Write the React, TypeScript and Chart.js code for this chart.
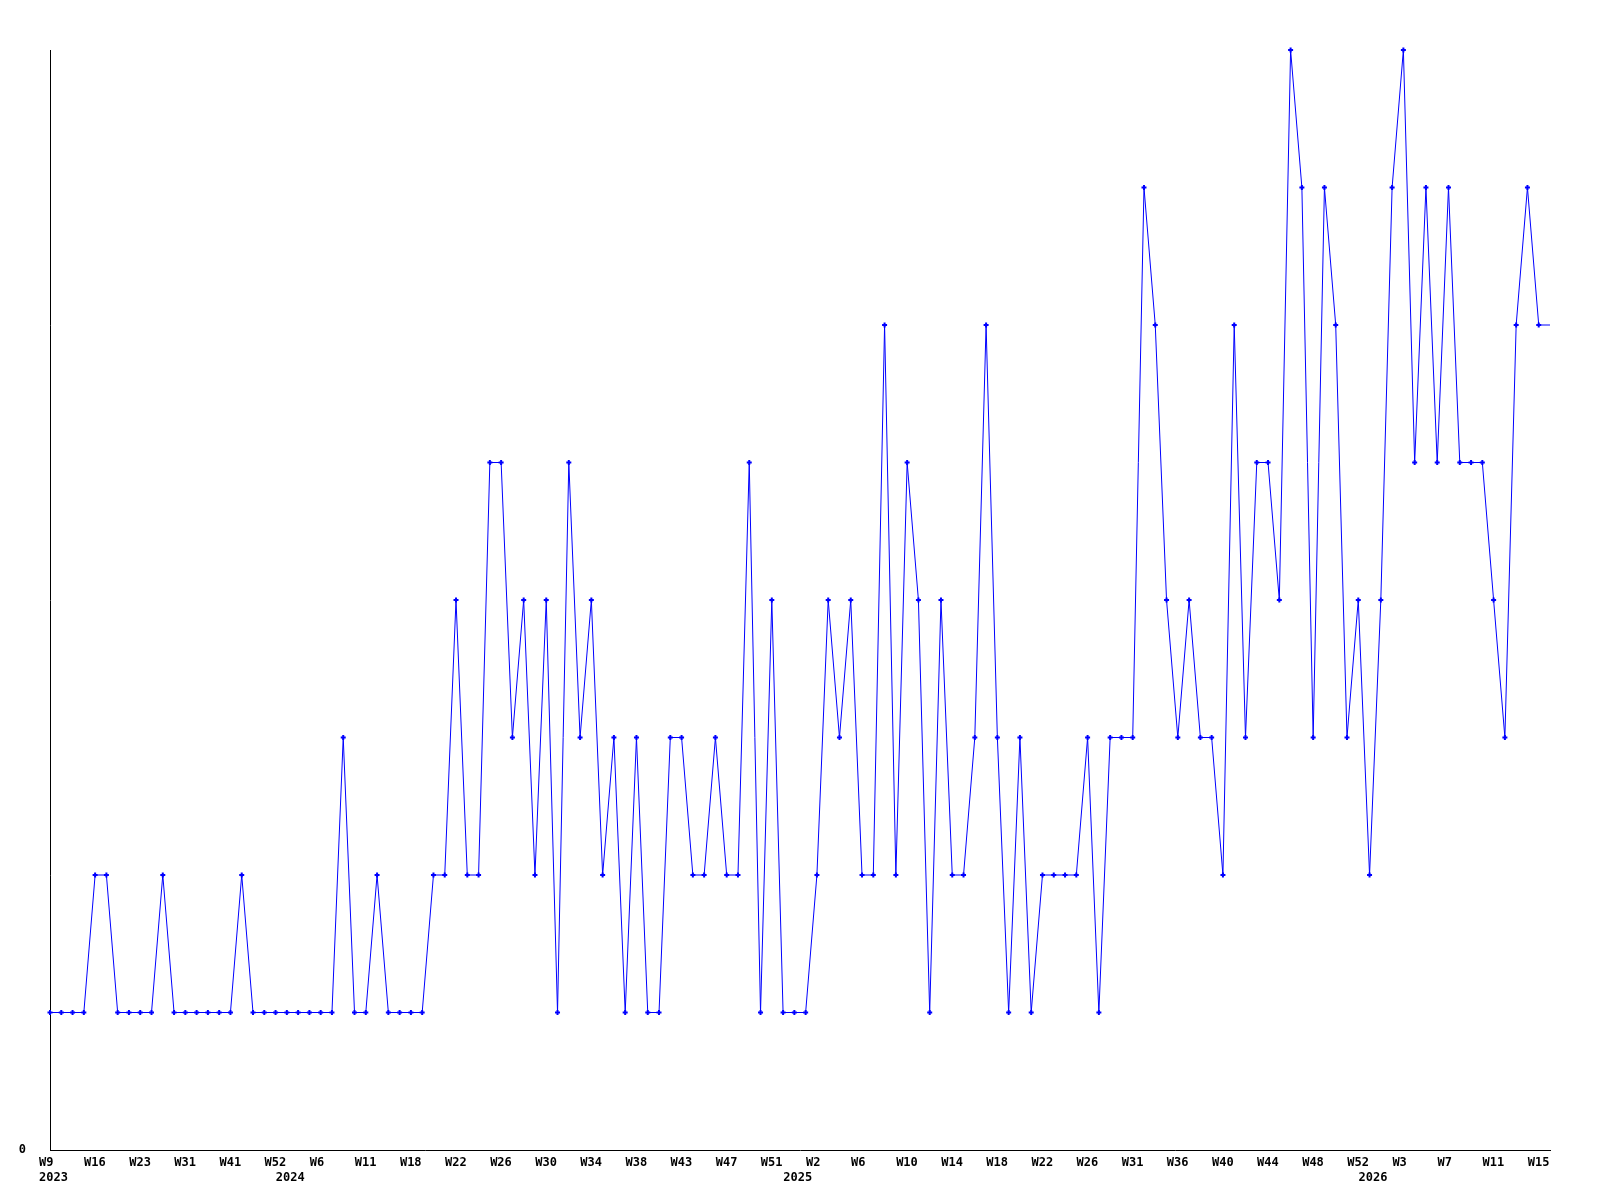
import React, { useEffect, useRef } from "react";
import { Chart, registerables } from "chart.js";

Chart.register(...registerables);

// Weekly counts (one entry per reported week, weeks without data are not listed)
const weeklyCounts: number[] = [
  1, 1, 1, 1, 2, 2, 1, 1, 1, 1,
  2, 1, 1, 1, 1, 1, 1, 2, 1, 1,
  1, 1, 1, 1, 1, 1, 3, 1, 1, 2,
  1, 1, 1, 1, 2, 2, 4, 2, 2, 5,
  5, 3, 4, 2, 4, 1, 5, 3, 4, 2,
  3, 1, 3, 1, 1, 3, 3, 2, 2, 3,
  2, 2, 5, 1, 4, 1, 1, 1, 2, 4,
  3, 4, 2, 2, 6, 2, 5, 4, 1, 4,
  2, 2, 3, 6, 3, 1, 3, 1, 2, 2,
  2, 2, 3, 1, 3, 3, 3, 7, 6, 4,
  3, 4, 3, 3, 2, 6, 3, 5, 5, 4,
  8, 7, 3, 7, 6, 3, 4, 2, 4, 7,
  8, 5, 7, 5, 7, 5, 5, 5, 4, 3,
  6, 7, 6, 6,
];

// Week tick labels, one on every 4th reported week
const weekTicks: string[] = [
  "W9", "W16", "W23", "W31", "W41", "W52", "W6", "W11", "W18",
  "W22", "W26", "W30", "W34", "W38", "W43", "W47", "W51", "W2",
  "W6", "W10", "W14", "W18", "W22", "W26", "W31", "W36", "W40",
  "W44", "W48", "W52", "W3", "W7", "W11", "W15",
];
const weekTickEvery = 4;

// Year labels and the index of the first reported week of that year
const yearNames: string[] = ["2023", "2024", "2025", "2026"];
const yearStartIndex: number[] = [0, 21, 66, 117];

const labels: string[] = weeklyCounts.map((_, i) => String(i));

function tickLabel(i: number): string | string[] {
  const week = i % weekTickEvery === 0 ? weekTicks[i / weekTickEvery] ?? "" : "";
  const yi = yearStartIndex.indexOf(i);
  if (yi >= 0) return [week, yearNames[yi]];
  return week;
}

export default function App() {
  const ref = useRef<HTMLCanvasElement | null>(null);

  useEffect(() => {
    if (!ref.current) return;
    const font = { family: "'DejaVu Sans Mono', monospace", size: 12, weight: "bold" as const, lineHeight: 1.25 };
    const last = weeklyCounts.length - 1;
    const chart = new Chart(ref.current, {
      type: "line",
      data: {
        labels,
        datasets: [
          {
            data: weeklyCounts,
            borderColor: "#0000ff",
            backgroundColor: "#0000ff",
            borderWidth: 1,
            tension: 0,
            pointStyle: "cross",
            pointRadius: (ctx: any) => (ctx.dataIndex === last ? 0 : 2.5),
            pointBorderWidth: 2,
            pointBorderColor: "#0000ff",
            pointBackgroundColor: "#0000ff",
            clip: false as any,
          },
        ],
      },
      options: {
        animation: false,
        responsive: false,
        maintainAspectRatio: false,
        devicePixelRatio: 1,
        layout: { padding: { top: 50, right: 50, left: 0, bottom: 0 } },
        plugins: { legend: { display: false }, tooltip: { enabled: false } },
        scales: {
          x: {
            type: "category",
            offset: false,
            grid: { display: false, drawTicks: false },
            border: { display: true, color: "#000000", width: 1 },
            afterFit: (s: any) => { s.height = 50; },
            ticks: {
              autoSkip: false,
              maxRotation: 0,
              minRotation: 0,
              align: "start",
              labelOffset: -11,
              padding: 5,
              color: "#000000",
              font,
              callback: (_v: any, i: number) => tickLabel(i),
            },
          },
          y: {
            min: 0,
            max: 8,
            grid: { display: false, drawTicks: false },
            border: { display: true, color: "#000000", width: 1 },
            afterFit: (s: any) => { s.width = 50; },
            ticks: {
              stepSize: 1,
              padding: 24,
              color: "#000000",
              font,
              callback: (v: any) => (Number(v) === 0 ? "0" : ""),
            },
          },
        },
      },
    });
    return () => chart.destroy();
  }, []);

  return (
    <div style={{ position: "absolute", left: 0, top: 0, width: 1600, height: 1200, background: "#ffffff" }}>
      <canvas ref={ref} width={1600} height={1200} style={{ width: 1600, height: 1200, display: "block" }} />
    </div>
  );
}
